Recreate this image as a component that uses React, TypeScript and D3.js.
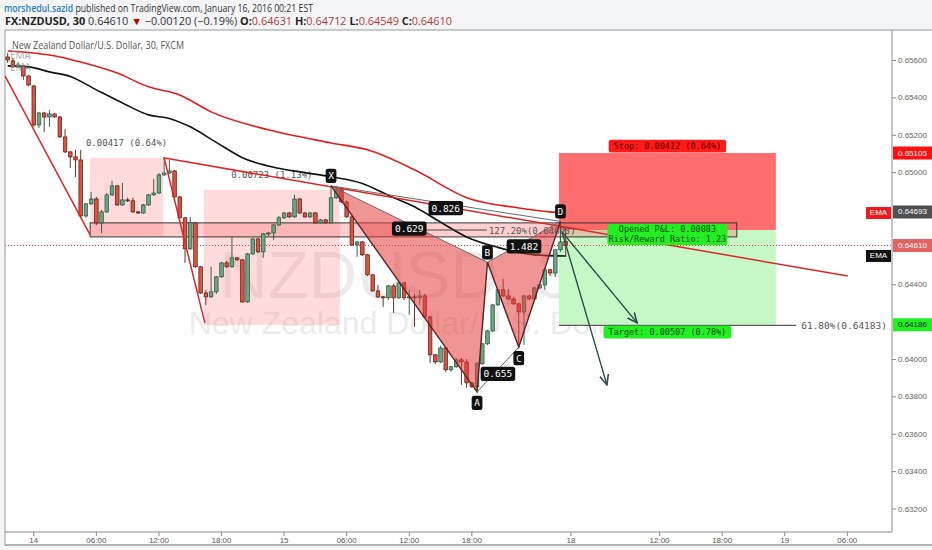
import React from 'react';
import * as d3 from 'd3';

// ---------- DATA ----------
const opens = [0.65619,0.65598,0.65566,0.65571,0.65517,0.65464,0.65255,0.65319,0.65298,0.65314,0.65298,0.65191,0.65111,0.65084,0.65068,0.64768,0.64833,0.64859,0.64731,0.64790,0.64881,0.64929,0.64827,0.64854,0.64849,0.64790,0.64784,0.64827,0.64881,0.64891,0.64988,0.64998,0.65009,0.64870,0.64758,0.64592,0.64731,0.64496,0.64356,0.64335,0.64362,0.64442,0.64517,0.64496,0.64544,0.64533,0.64308,0.64565,0.64645,0.64576,0.64672,0.64677,0.64720,0.64758,0.64784,0.64763,0.64859,0.64784,0.64763,0.64784,0.64731,0.64747,0.64731,0.64865,0.64908,0.64843,0.64763,0.64613,0.64629,0.64560,0.64453,0.64367,0.64335,0.64330,0.64394,0.64330,0.64410,0.64330,0.64335,0.64330,0.64340,0.64228,0.64025,0.63987,0.64062,0.63945,0.63961,0.63998,0.63987,0.63875,0.63854,0.63977,0.64084,0.64153,0.64292,0.64373,0.64340,0.64324,0.64298,0.64255,0.64340,0.64324,0.64383,0.64399,0.64480,0.64463,0.64587,0.64631];
const highs = [0.65640,0.65614,0.65592,0.65576,0.65523,0.65469,0.65325,0.65325,0.65336,0.65319,0.65303,0.65234,0.65116,0.65122,0.65122,0.64838,0.64897,0.64870,0.64801,0.64891,0.64956,0.64934,0.64945,0.64865,0.64865,0.64795,0.64833,0.64886,0.64966,0.64998,0.65079,0.65068,0.65015,0.64875,0.64763,0.64763,0.64736,0.64501,0.64373,0.64496,0.64447,0.64522,0.64528,0.64656,0.64549,0.64538,0.64570,0.64651,0.64651,0.64677,0.64683,0.64726,0.64768,0.64790,0.64790,0.64881,0.64865,0.64790,0.64790,0.64790,0.64752,0.64752,0.64929,0.64924,0.64913,0.64849,0.64768,0.64635,0.64635,0.64565,0.64458,0.64399,0.64340,0.64399,0.64405,0.64415,0.64415,0.64373,0.64351,0.64373,0.64351,0.64233,0.64030,0.64073,0.64068,0.63966,0.64009,0.64009,0.64003,0.63880,0.63987,0.64089,0.64159,0.64298,0.64378,0.64431,0.64378,0.64335,0.64303,0.64346,0.64346,0.64389,0.64405,0.64490,0.64485,0.64592,0.64736,0.64712];
const lows = [0.65587,0.65560,0.65560,0.65496,0.65464,0.65245,0.65239,0.65218,0.65245,0.65293,0.65186,0.65105,0.65025,0.64977,0.64758,0.64758,0.64827,0.64720,0.64677,0.64784,0.64875,0.64822,0.64822,0.64843,0.64784,0.64779,0.64779,0.64822,0.64875,0.64886,0.64982,0.64993,0.64865,0.64752,0.64517,0.64587,0.64490,0.64351,0.64292,0.64330,0.64351,0.64437,0.64490,0.64490,0.64528,0.64303,0.64303,0.64560,0.64570,0.64544,0.64661,0.64640,0.64715,0.64752,0.64758,0.64758,0.64779,0.64758,0.64758,0.64726,0.64726,0.64726,0.64726,0.64859,0.64838,0.64758,0.64608,0.64549,0.64554,0.64447,0.64362,0.64330,0.64282,0.64319,0.64249,0.64324,0.64319,0.64239,0.64175,0.64292,0.64223,0.63982,0.63977,0.63982,0.63934,0.63934,0.63955,0.63864,0.63848,0.63848,0.63827,0.63971,0.64078,0.64148,0.64287,0.64335,0.64319,0.64292,0.64062,0.64078,0.64319,0.64319,0.64378,0.64373,0.64447,0.64442,0.64576,0.64549];
const closes = [0.65603,0.65566,0.65576,0.65517,0.65469,0.65255,0.65319,0.65298,0.65314,0.65298,0.65191,0.65111,0.65084,0.65068,0.64768,0.64833,0.64859,0.64731,0.64790,0.64881,0.64929,0.64827,0.64854,0.64849,0.64790,0.64784,0.64827,0.64881,0.64891,0.64988,0.64998,0.65009,0.64870,0.64758,0.64592,0.64731,0.64496,0.64356,0.64335,0.64362,0.64442,0.64517,0.64496,0.64544,0.64533,0.64308,0.64565,0.64645,0.64576,0.64672,0.64677,0.64720,0.64758,0.64784,0.64763,0.64859,0.64784,0.64763,0.64784,0.64731,0.64747,0.64731,0.64865,0.64908,0.64843,0.64763,0.64613,0.64629,0.64560,0.64453,0.64367,0.64335,0.64330,0.64394,0.64330,0.64410,0.64330,0.64335,0.64330,0.64340,0.64228,0.64025,0.63987,0.64062,0.63945,0.63961,0.63998,0.63987,0.63875,0.63854,0.63977,0.64084,0.64153,0.64292,0.64373,0.64340,0.64324,0.64298,0.64255,0.64340,0.64324,0.64383,0.64399,0.64480,0.64463,0.64587,0.64629,0.64610];

const redEma: [number, number][] = [[0,0.65651],[5,0.65640],[10,0.65619],[14,0.65592],[21,0.65533],[27,0.65459],[33,0.65416],[39,0.65325],[50,0.65229],[62,0.65159],[69,0.65122],[78,0.65015],[88,0.64866],[98,0.64811],[104,0.64790],[107,0.64784]];
const blackEma: [number, number][] = [[0,0.65571],[4,0.65566],[8,0.65539],[12,0.65515],[17,0.65443],[22,0.65373],[27,0.65309],[31,0.65290],[35,0.65245],[40,0.65162],[45,0.65080],[52,0.65023],[57,0.65000],[62,0.64978],[68,0.64942],[73,0.64879],[78,0.64817],[83,0.64735],[88,0.64656],[94,0.64600],[101,0.64560],[107,0.64554]];

const timeTickIdx = [5,17,29,41,53,65,77,89,108,125,137,149,161];
const timeTickLabels = ['14','06:00','12:00','18:00','15','06:00','12:00','18:00','18','12:00','18:00','19','06:00'];
const priceTicks = [0.632,0.634,0.636,0.638,0.640,0.642,0.644,0.646,0.648,0.650,0.652,0.654,0.656];

const patternNames = ['X','A','B','C','D'];
const patternIdx = [62,90,92,98,106];
const patternPrice = [0.64929,0.63827,0.64520,0.64066,0.64739];
const ratioPairs: [number, number][] = [[0,2],[1,3],[2,4],[0,4]];
const ratioLabels = ['0.629','0.655','1.482','0.826'];

const rangeStart = [15.8, 37.6];
const rangeEnd = [29.8, 63.7];
const rangeTop = [0.65079, 0.64908];
const rangeBottom = [0.64662, 0.64185];
const rangeLabels = ['0.00417 (0.64%)', '0.00723 (1.13%)'];

const trendLines: [number, number, number, number][] = [
  [-0.5, 0.65517, 15.8, 0.64667],
  [30, 0.65079, 37.8, 0.64196],
  [29.8, 0.65079, 161.1, 0.64447],
];

const bandStart = 15.8, bandEnd = 139.8, bandTop = 0.64731, bandBottom = 0.64656;

const posStart = 105.7, posEnd = 147.3;
const entry = 0.64693, stopPrice = 0.65105, targetPrice = 0.64186;
const lastPrice = 0.6461;
const fibPrice = 0.64183;

const arrowFrom: [number, number] = [106.3, 0.64683];
const arrowTo: [number, number][] = [[120.7, 0.64196], [114.9, 0.63864]];

// ---------- LAYOUT ----------
const W = 932, H = 550;
const plotL = 5, plotR = 892, plotT = 30, plotB = 532;

export default function App() {
  const x = d3.scaleLinear().domain([0, 161]).range([7.7, 7.7 + 5.215 * 161]);
  const y = d3.scaleLinear().domain([0.632, 0.656]).range([509, 60.5]);
  const fmt = d3.format('.5f');
  const emaLine = d3.line<[number, number]>().x(d => x(d[0])).y(d => y(d[1])).curve(d3.curveMonotoneX);
  const mono = 'DejaVu Sans Mono, monospace';
  const sans = 'Liberation Sans, Arial, sans-serif';
  const pts = patternIdx.map((d, i) => [x(d), y(patternPrice[i])]);
  const tri = (a: number[], b: number[], c: number[]) => `M${a[0]},${a[1]}L${b[0]},${b[1]}L${c[0]},${c[1]}Z`;
  const posMid = (x(posStart) + x(posEnd)) / 2;

  const axisLabels = [
    { p: stopPrice, yy: y(stopPrice), bg: '#ff1010', fg: '#fff' },
    { p: entry, yy: y(entry) - 18, bg: '#505050', fg: '#fff' },
    { p: lastPrice, yy: y(lastPrice), bg: '#e06262', fg: '#fff' },
    { p: targetPrice, yy: y(targetPrice), bg: '#22ee22', fg: '#123' },
  ];
  const visibleTicks = priceTicks.filter(p => axisLabels.every(a => Math.abs(y(p) - a.yy) > 12));

  const pill = (cx: number, cy: number, text: string, bg: string, fg: string, fs = 9, pad = 4, key?: string) => {
    const w = text.length * fs * 0.602 + pad * 2;
    return (
      <g key={key}>
        <rect x={cx - w / 2} y={cy - fs * 0.75} width={w} height={fs * 1.5} rx={2.5} fill={bg} />
        <text x={cx} y={cy} fill={fg} fontFamily={mono} fontSize={fs} textAnchor="middle" dominantBaseline="central">{text}</text>
      </g>
    );
  };

  return (
    <svg width={W} height={H} style={{ position: 'fixed', left: 0, top: 0 }}>
      <defs>
        <clipPath id="plot"><rect x={plotL} y={plotT} width={plotR - plotL} height={plotB - plotT} /></clipPath>
        <marker id="arr" viewBox="0 0 10 10" refX="9" refY="5" markerWidth="8" markerHeight="8" orient="auto">
          <path d="M0,1 L9,5 L0,9" fill="none" stroke="#2c4a4a" strokeWidth="1.4" />
        </marker>
      </defs>
      <rect x={0} y={0} width={W} height={H} fill="#f3f5f7" />
      <rect x={plotL} y={plotT} width={W} height={545 - plotT} fill="#fff" stroke="#9a9a9a" />

      {/* header */}
      <text x={4} y={12} fontFamily="Open Sans, sans-serif" fontSize={10.5} textLength={309} lengthAdjust="spacingAndGlyphs">
        <tspan fill="#2e7dbf" fontWeight="600">morshedul.sazid</tspan>
        <tspan fill="#333"> published on TradingView.com, January 16, 2016 00:21 EST</tspan>
      </text>
      <text x={5} y={25} fontFamily="Open Sans, sans-serif" fontSize={10.5} textLength={447} lengthAdjust="spacingAndGlyphs" fill="#333">
        <tspan fontWeight="700" fill="#222">FX:NZDUSD, 30</tspan>
        <tspan> 0.64610 </tspan>
        <tspan fill="#c00000">▼</tspan>
        <tspan> −0.00120 (−0.19%) </tspan>
        <tspan fontWeight="700" fill="#222">O:</tspan><tspan fill="#b23a3a">0.64631</tspan>
        <tspan fontWeight="700" fill="#222"> H:</tspan><tspan fill="#b23a3a">0.64712</tspan>
        <tspan fontWeight="700" fill="#222"> L:</tspan><tspan fill="#b23a3a">0.64549</tspan>
        <tspan fontWeight="700" fill="#222"> C:</tspan><tspan fill="#b23a3a">0.64610</tspan>
      </text>

      <g clipPath="url(#plot)">
        {/* watermark */}
        <text x={415} y={298} textAnchor="middle" fontFamily={sans} fontSize={67} fill="#000" opacity={0.075}>NZDUSD, 30</text>
        <text x={411} y={334} textAnchor="middle" fontFamily={sans} fontSize={32} fill="#000" opacity={0.075}>New Zealand Dollar/U.S. Dollar</text>

        {/* price range boxes */}
        {rangeStart.map((s, i) => (
          <rect key={'rb' + i} x={x(s)} y={y(rangeTop[i])} width={x(rangeEnd[i]) - x(s)} height={y(rangeBottom[i]) - y(rangeTop[i])} fill="#ff7070" opacity={0.25} />
        ))}
        {rangeStart.map((s, i) => (
          <text key={'rl' + i} x={(x(s) + x(rangeEnd[i])) / 2} y={y(rangeTop[i]) - 12} textAnchor="middle" fontFamily={mono} fontSize={9} fill="#555">{rangeLabels[i]}</text>
        ))}

        {/* position tool */}
        <rect x={x(posStart)} y={y(stopPrice)} width={x(posEnd) - x(posStart)} height={y(entry) - y(stopPrice)} fill="#ff6e6e" />
        <rect x={x(posStart)} y={y(entry)} width={x(posEnd) - x(posStart)} height={y(targetPrice) - y(entry)} fill="#c6f8c6" />

        {/* horizontal band */}
        <rect x={x(bandStart)} y={y(bandTop)} width={x(bandEnd) - x(bandStart)} height={y(bandBottom) - y(bandTop)} fill="#ff6060" fillOpacity={0.3} stroke="#333" strokeWidth={1} />

        {/* current price dotted line */}
        <line x1={plotL} x2={plotR} y1={y(lastPrice)} y2={y(lastPrice)} stroke="#e04040" strokeDasharray="1,2" />

        {/* EMAs */}
        <path d={emaLine(redEma) || ''} fill="none" stroke="#e31b1b" strokeWidth={1.6} />
        <path d={emaLine(blackEma) || ''} fill="none" stroke="#111" strokeWidth={1.6} />

        {/* candles */}
        {opens.map((o, i) => {
          const c = closes[i];
          const up = c >= o;
          const cx = x(i);
          const top = y(Math.max(o, c));
          const bot = y(Math.min(o, c));
          const edge = up ? '#225437' : '#5b1a13';
          return (
            <g key={'c' + i}>
              <line x1={cx} x2={cx} y1={y(highs[i])} y2={y(lows[i])} stroke={edge} strokeWidth={0.9} />
              <rect x={cx - 1.8} y={top} width={3.6} height={Math.max(bot - top, 0.8)} fill={up ? '#6ba583' : '#d75442'} stroke={edge} strokeWidth={0.7} />
            </g>
          );
        })}

        {/* trend lines */}
        {trendLines.map((t, i) => (
          <line key={'t' + i} x1={x(t[0])} y1={y(t[1])} x2={x(t[2])} y2={y(t[3])} stroke="#e02424" strokeWidth={1.5} />
        ))}

        {/* XABCD pattern */}
        <path d={tri(pts[0], pts[1], pts[2])} fill="#e63c3c" fillOpacity={0.55} />
        <path d={tri(pts[2], pts[3], pts[4])} fill="#e63c3c" fillOpacity={0.55} />
        {ratioPairs.map((p, i) => (
          <line key={'rp' + i} x1={pts[p[0]][0]} y1={pts[p[0]][1]} x2={pts[p[1]][0]} y2={pts[p[1]][1]} stroke="#6a6a6a" strokeWidth={1} />
        ))}
        <path d={d3.line()(pts as [number, number][]) || ''} fill="none" stroke="#5a2222" strokeWidth={1.4} />

        {/* 127.2% line and text */}
        <line x1={x(79.6)} x2={x(91.9)} y1={y(entry)} y2={y(entry)} stroke="#444" />
        <text x={x(91.9) + 2} y={y(entry) + 1} dominantBaseline="central" fontFamily={mono} fontSize={9} fill="#555">127.20%(0.64693)</text>

        {/* fib target line */}
        <line x1={x(posStart)} x2={x(151.2)} y1={y(fibPrice)} y2={y(fibPrice)} stroke="#333" strokeWidth={1} />
        <text x={x(151.2) + 5} y={y(fibPrice)} dominantBaseline="central" fontFamily={mono} fontSize={9.5} fill="#555">61.80%(0.64183)</text>

        {/* arrows */}
        {arrowTo.map((a, i) => (
          <line key={'a' + i} x1={x(arrowFrom[0])} y1={y(arrowFrom[1])} x2={x(a[0])} y2={y(a[1])} stroke="#2c4a4a" strokeWidth={1.4} markerEnd="url(#arr)" />
        ))}

        {/* ratio labels */}
        {ratioPairs.map((p, i) => pill((pts[p[0]][0] + pts[p[1]][0]) / 2, (pts[p[0]][1] + pts[p[1]][1]) / 2 + 4.5, ratioLabels[i], '#111', '#fff', 9.5, 3, 'rl' + i))}
        {/* point labels */}
        {pts.map((p, i) => pill(p[0], p[1] + ((i === 1 || i === 3) ? 11 : -10), patternNames[i], '#111', '#fff', 9.5, 2.5, 'pl' + i))}

        {/* position labels */}
        {pill(posMid, y(stopPrice) - 7, 'Stop: 0.00412 (0.64%)', '#ff1a1a', '#600', 8.5, 5, 'ps')}
        <rect x={posMid - 60} y={y(entry) - 6} width={120} height={21} rx={2.5} fill="#22ee22" />
        <text x={posMid} y={y(entry) - 0.5} textAnchor="middle" dominantBaseline="central" fontFamily={mono} fontSize={8.5} fill="#155015">Opened P&amp;L: 0.00083</text>
        <text x={posMid} y={y(entry) + 9} textAnchor="middle" dominantBaseline="central" fontFamily={mono} fontSize={8.5} fill="#155015">Risk/Reward Ratio: 1.23</text>
        {pill(posMid, y(targetPrice) + 7.5, 'Target: 0.00507 (0.78%)', '#22ee22', '#155015', 8.5, 5, 'pt')}

        {/* chart title & legend */}
        <text x={12} y={49} fontFamily="Open Sans, sans-serif" fontSize={11} fill="#555" textLength={172} lengthAdjust="spacingAndGlyphs">New Zealand Dollar/U.S. Dollar, 30, FXCM</text>
        <text x={10} y={59} fontFamily="Open Sans, sans-serif" fontSize={10} fill="#888" opacity={0.7}>EMA</text>
        <text x={10} y={71} fontFamily="Open Sans, sans-serif" fontSize={10} fill="#888" opacity={0.7}>EMA</text>

        {/* EMA tags */}
        <rect x={866} y={y(redEma[redEma.length - 1][1]) - 6} width={25} height={12} fill="#f01a1a" />
        <text x={878.5} y={y(redEma[redEma.length - 1][1])} textAnchor="middle" dominantBaseline="central" fontFamily={sans} fontSize={8} fill="#fff">EMA</text>
        <rect x={866} y={y(blackEma[blackEma.length - 1][1]) - 6} width={25} height={12} fill="#111" />
        <text x={878.5} y={y(blackEma[blackEma.length - 1][1])} textAnchor="middle" dominantBaseline="central" fontFamily={sans} fontSize={8} fill="#fff">EMA</text>
      </g>

      {/* axes lines */}
      <line x1={plotR} x2={plotR} y1={plotT} y2={plotB} stroke="#8a8a8a" />
      <line x1={plotL} x2={plotR} y1={plotB} y2={plotB} stroke="#8a8a8a" />

      {/* price axis */}
      {visibleTicks.map((p, i) => (
        <g key={'pt' + i}>
          <line x1={plotR} x2={plotR + 4} y1={y(p)} y2={y(p)} stroke="#888" />
          <text x={plotR + 6} y={y(p)} dominantBaseline="central" fontFamily={sans} fontSize={8} fill="#666">{fmt(p)}</text>
        </g>
      ))}
      {axisLabels.map((d, i) => (
        <g key={'al' + i}>
          <rect x={plotR + 1} y={d.yy - 6.5} width={40} height={13} fill={d.bg} />
          <text x={plotR + 6} y={d.yy} dominantBaseline="central" fontFamily={sans} fontSize={8} fill={d.fg}>{fmt(d.p)}</text>
        </g>
      ))}

      {/* time axis */}
      {timeTickIdx.map((t, i) => (
        <g key={'tt' + i}>
          <line x1={x(t)} x2={x(t)} y1={plotB} y2={plotB + 4} stroke="#888" />
          <text x={x(t)} y={543} textAnchor="middle" fontFamily={sans} fontSize={8} fill="#555">{timeTickLabels[i]}</text>
        </g>
      ))}
      <line x1={plotL} x2={W} y1={545} y2={545} stroke="#9a9a9a" />
    </svg>
  );
}
